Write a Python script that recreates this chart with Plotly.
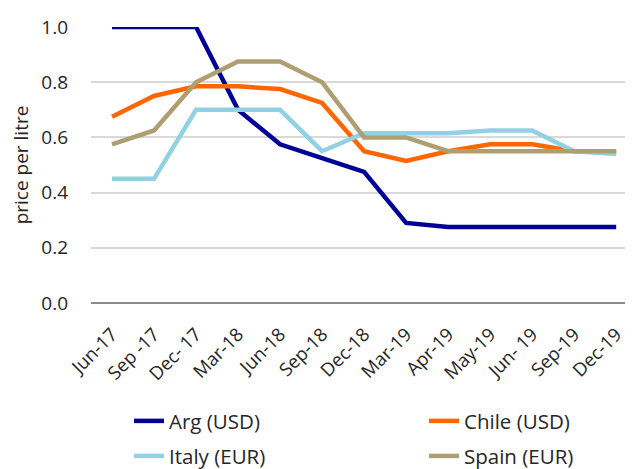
import plotly.graph_objects as go

months = ["Jun-17", "Sep -17", "Dec- 17", "Mar-18", "Jun-18", "Sep-18", "Dec-18",
          "Mar-19", "Apr-19", "May-19", "Jun- 19", "Sep-19", "Dec-19"]

arg_usd = [1.0, 1.0, 1.0, 0.70, 0.575, 0.525, 0.475, 0.29, 0.275, 0.275, 0.275, 0.275, 0.275]
chile_usd = [0.675, 0.75, 0.785, 0.785, 0.775, 0.725, 0.55, 0.515, 0.55, 0.575, 0.575, 0.55, 0.55]
italy_eur = [0.45, 0.45, 0.70, 0.70, 0.70, 0.55, 0.615, 0.615, 0.615, 0.625, 0.625, 0.55, 0.54]
spain_eur = [0.575, 0.625, 0.80, 0.875, 0.875, 0.80, 0.60, 0.60, 0.55, 0.55, 0.55, 0.55, 0.55]

# name, values, colour, legend slot (col, row) in the 2x2 legend grid
series = [
    ("Arg (USD)", arg_usd, "#000096", 0, 0),
    ("Chile (USD)", chile_usd, "#FF6600", 1, 0),
    ("Italy (EUR)", italy_eur, "#92D1E3", 0, 1),
    ("Spain (EUR)", spain_eur, "#AD9F72", 1, 1),
]

# the page body adds an 8px margin, so the figure is 8px smaller each way
W, H = 625, 461

legend_cols = [0.1936, 0.6656]  # container fractions (x)
legend_rows = [0.104, 0.028]    # container fractions (y)

fig = go.Figure()
legend_layout = {}
for i, (name, values, color, col, row) in enumerate(series):
    key = "legend" if i == 0 else "legend%d" % (i + 1)
    fig.add_trace(go.Scatter(
        x=months,
        y=values,
        mode="lines",
        name=name,
        legend=key,
        line=dict(color=color, width=4.5),
    ))
    legend_layout[key] = dict(
        orientation="h",
        xref="container",
        yref="container",
        x=legend_cols[col],
        y=legend_rows[row],
        xanchor="left",
        yanchor="middle",
        font=dict(family="Open Sans", size=20.5, color="#262626"),
        bgcolor="rgba(0,0,0,0)",
    )

fig.update_layout(
    width=W,
    height=H,
    margin=dict(l=83, r=0, t=19, b=166),
    plot_bgcolor="white",
    paper_bgcolor="white",
    font=dict(family="Open Sans", size=19, color="#262626"),
    showlegend=True,
    xaxis=dict(
        range=[-0.5, 12.4],
        showgrid=False,
        zeroline=False,
        tickangle=-45,
        ticks="",
        ticklabelstandoff=16,
        automargin=False,
        tickfont=dict(size=18.5),
    ),
    yaxis=dict(
        range=[0, 1.0],
        dtick=0.2,
        tickformat=".1f",
        showgrid=True,
        gridcolor="#D9D9D9",
        gridwidth=1.5,
        zeroline=True,
        zerolinecolor="#8C8C8C",
        zerolinewidth=2,
        ticks="",
        ticklabelstandoff=22,
        automargin=False,
        title=dict(text="price per litre", standoff=12, font=dict(size=19)),
        tickfont=dict(size=19),
    ),
)
fig.update_layout(**legend_layout)

fig.write_html("out.html")
